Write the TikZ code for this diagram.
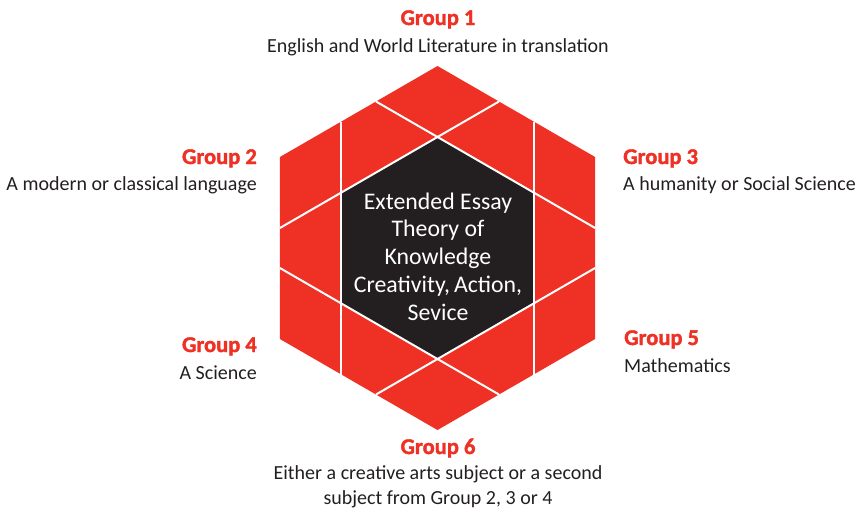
\documentclass[tikz,border=0pt]{standalone}
\usepackage{fontspec}
\setmainfont{Carlito}
\newfontfamily\headfont{Carlito}[BoldFeatures={FakeBold=1.6}]
\usetikzlibrary{calc}
\definecolor{ibred}{HTML}{EE3124}
\definecolor{ibdark}{HTML}{231F20}
\begin{document}
\begin{tikzpicture}[x=1pt,y=-1pt,
  grouphead/.style={text=ibred, font=\fontsize{22.5}{22.5}\selectfont\headfont\bfseries, inner sep=0pt},
  groupsub/.style={text=ibdark, font=\fontsize{20}{24}\selectfont, inner sep=0pt},
  coretext/.style={text=white, font=\fontsize{23.8}{27.7}\selectfont, align=center, inner sep=0pt},
  divider/.style={white, line width=2pt}]
\useasboundingbox (0,0) rectangle (861,515);
\coordinate (C) at (437.5,248);
\def\Ro{182}
\def\Ri{111}
% outer red hexagon
\fill[ibred] ($(C)+(90:\Ro)$) -- ($(C)+(150:\Ro)$) -- ($(C)+(210:\Ro)$) -- ($(C)+(270:\Ro)$) -- ($(C)+(330:\Ro)$) -- ($(C)+(30:\Ro)$) -- cycle;
% inner dark hexagon
\fill[ibdark] ($(C)+(90:\Ri)$) -- ($(C)+(150:\Ri)$) -- ($(C)+(210:\Ri)$) -- ($(C)+(270:\Ri)$) -- ($(C)+(330:\Ri)$) -- ($(C)+(30:\Ri)$) -- cycle;
% white dividing lines: inner edges extended to the outer border
\pgfmathsetmacro{\D}{\Ri*0.8660254}
\pgfmathsetmacro{\L}{\Ro-\Ri/2}
\foreach \t in {0,60,120,180,240,300}{
  \draw[divider] ($(C)+(\t:\D)+(\t+90:\L)$) -- ($(C)+(\t:\D)+(\t-90:\L)$);
}
% core text
\node[coretext, anchor=base] (core1) at (438,209) {Extended Essay};
\node[coretext, anchor=base] (core2) at (438,236) {Theory of};
\node[coretext, anchor=base] (core3) at (438,264) {Knowledge};
\node[coretext, anchor=base] (core4) at (438,292) {Creativity,\,Action,};
\node[coretext, anchor=base] (core5) at (438,320) {Sevice};
% group 1
\node[grouphead, anchor=base] (g1) at (438,25) {Group 1};
\node[groupsub, anchor=base] (g1s) at (438,52) {English and World Literature in translation};
% group 2
\node[grouphead, anchor=base east] (g2) at (257,164) {Group 2};
\node[groupsub, anchor=base east] (g2s) at (257,190) {A modern or classical language};
% group 3
\node[grouphead, anchor=base west] (g3) at (623,164) {Group 3};
\node[groupsub, anchor=base west] (g3s) at (623,190) {A humanity or Social Science};
% group 4
\node[grouphead, anchor=base east] (g4) at (257,352) {Group 4};
\node[groupsub, anchor=base east] (g4s) at (257,379) {A Science};
% group 5
\node[grouphead, anchor=base west] (g5) at (624,345) {Group 5};
\node[groupsub, anchor=base west] (g5s) at (624,372) {Mathematics};
% group 6
\node[grouphead, anchor=base] (g6) at (438,454) {Group 6};
\node[groupsub, anchor=base] (g6s) at (438,479) {Either a creative arts subject or a second};
\node[groupsub, anchor=base] (g6t) at (438,504) {subject from Group 2, 3 or 4};
\end{tikzpicture}
\end{document}
